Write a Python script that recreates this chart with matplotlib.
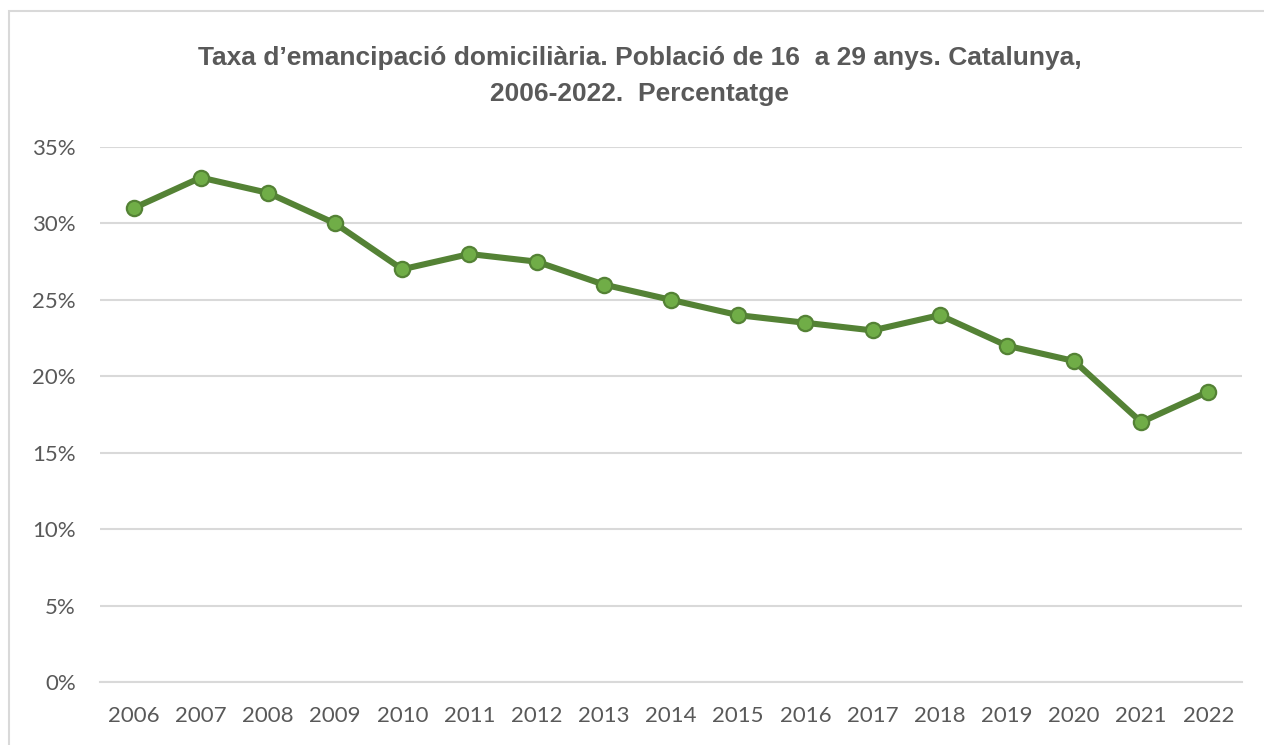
#!/usr/bin/env python
"""Taxa d'emancipació domiciliària, Catalunya 2006-2022."""
import matplotlib
matplotlib.use("Agg")
import matplotlib.pyplot as plt
from matplotlib.patches import Rectangle
from matplotlib.ticker import FuncFormatter

YEARS = [str(y) for y in range(2006, 2023)]
RATE = [31, 33, 32, 30, 27, 28, 27.5, 26, 25, 24, 23.5, 23, 24, 22, 21, 17, 19]
Y_TICKS = [0, 5, 10, 15, 20, 25, 30, 35]

TITLE = ("Taxa d\u2019emancipació domiciliària. Població de 16  a 29 anys. Catalunya,\n"
         "2006-2022.  Percentatge")

LINE_COLOR = "#548235"
MARKER_FACE = "#70AD47"
GRID = "#d9d9d9"
TEXT = "#595959"


def main():
    fig = plt.figure(figsize=(12.64, 7.45), dpi=100)
    ax = fig.add_axes([100 / 1264, 63 / 745, 1142 / 1264, 535 / 745])

    xs = list(range(len(YEARS)))
    ax.plot(xs, RATE, color=LINE_COLOR, lw=4.4, marker="o", ms=11,
            mfc=MARKER_FACE, mec=LINE_COLOR, mew=1.6, solid_joinstyle="round",
            zorder=3)

    ax.set_xlim(-0.5, len(YEARS) - 0.5)
    ax.set_ylim(0, 35)
    ax.set_yticks(Y_TICKS)
    ax.yaxis.set_major_formatter(FuncFormatter(lambda v, _: f"{v:.0f}%"))
    ax.set_xticks(xs)
    ax.set_xticklabels(YEARS)
    ax.grid(axis="y", color=GRID, lw=1.5, zorder=0)
    ax.set_axisbelow(True)
    for s in ["top", "right", "left"]:
        ax.spines[s].set_visible(False)
    ax.spines["bottom"].set_color(GRID)
    ax.spines["bottom"].set_linewidth(1.5)
    ax.tick_params(length=0, labelsize=16, labelcolor=TEXT)
    ax.tick_params(axis="y", pad=17.5)
    ax.tick_params(axis="x", pad=17)
    for lab in ax.get_xticklabels() + ax.get_yticklabels():
        lab.set_family(["Lato", "DejaVu Sans"])

    fig.text(0.506, 1 - 76 / 745, TITLE, ha="center", va="center",
             fontsize=19, fontweight="bold", color=TEXT, linespacing=1.6,
             family=["Liberation Sans Narrow", "Liberation Sans", "DejaVu Sans"])

    # light chart border (runs off the right and bottom edges)
    fig.patches.append(Rectangle((9 / 1264, -0.05), 1.1, 1 - 11 / 745 + 0.05,
                                 transform=fig.transFigure, fill=False,
                                 ec=GRID, lw=1.5, zorder=0))

    fig.savefig("out.png", dpi=100)


if __name__ == "__main__":
    main()
